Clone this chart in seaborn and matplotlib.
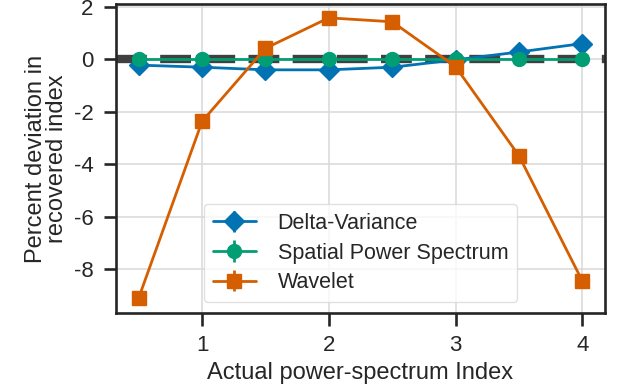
import numpy as np
import matplotlib
matplotlib.use("Agg")
import matplotlib.pyplot as plt
import seaborn as sns

# Actual power-spectrum indices that were tested
indices = [0.5, 1.0, 1.5, 2.0, 2.5, 3.0, 3.5, 4.0]

# Percent deviation of the recovered index for each method
delta_variance = [-0.22, -0.30, -0.40, -0.40, -0.30, -0.02, 0.28, 0.60]
spatial_power_spectrum = [0.0, 0.0, 0.0, 0.0, 0.0, 0.0, 0.0, 0.0]
wavelet = [-9.08, -2.36, 0.42, 1.58, 1.43, -0.28, -3.67, -8.44]

# Uncertainties on the recovered values (too small to see)
delta_variance_err = [0.0] * 8
spatial_power_spectrum_err = [0.0] * 8
wavelet_err = [0.0] * 8

series_names = ["Delta-Variance", "Spatial Power Spectrum", "Wavelet"]

sns.set_style("ticks")
plt.rcParams["font.family"] = ["Liberation Sans", "DejaVu Sans"]
plt.rcParams["axes.unicode_minus"] = False

colors = sns.color_palette("colorblind")

fig, ax = plt.subplots(figsize=(6.2, 3.92), dpi=100)
fig.subplots_adjust(left=0.187, right=0.976, top=0.99, bottom=0.2015)

ax.grid(True, color="0.85", linewidth=1.1, zorder=0)
ax.axhline(0, linestyle="--", linewidth=6, color="0.25", zorder=1)

series = [
    (delta_variance, delta_variance_err, "D", colors[0]),
    (spatial_power_spectrum, spatial_power_spectrum_err, "o", colors[2]),
    (wavelet, wavelet_err, "s", colors[3]),
]
for name, (vals, errs, marker, col) in zip(series_names, series):
    ax.errorbar(indices, vals, yerr=errs, fmt="-", marker=marker, color=col,
                markersize=10, linewidth=2.0, elinewidth=2.0, label=name,
                zorder=3)

ax.set_xlim(0.32, 4.18)
ax.set_ylim(-9.66, 2.11)
ax.set_xticks([1, 2, 3, 4])
ax.set_yticks([2, 0, -2, -4, -6, -8])

for side in ax.spines.values():
    side.set_linewidth(1.9)
    side.set_color("0.15")
ax.tick_params(axis="both", which="major", length=9, width=1.9,
               labelsize=16, colors="0.15", pad=7)

ax.set_xlabel("Actual power-spectrum Index", fontsize=17, color="0.15")
ax.set_ylabel("Percent deviation in\nrecovered index", fontsize=17,
              color="0.15", linespacing=0.95)

leg = ax.legend(loc="lower center", fontsize=15.5, frameon=True,
                handletextpad=1.0, borderpad=0.42, labelspacing=0.4)
leg.get_frame().set_edgecolor("0.85")
for t in leg.get_texts():
    t.set_color("0.15")

fig.savefig("out.png", dpi=100)
